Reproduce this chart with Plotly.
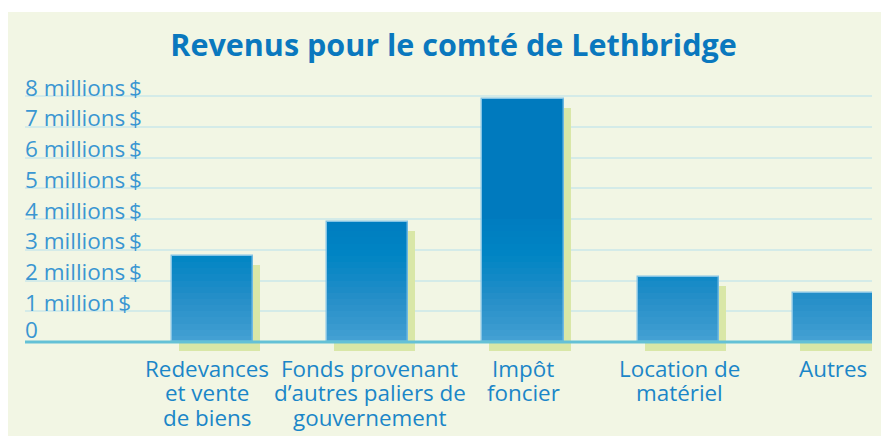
import plotly.graph_objects as go

# ---- data ----
categories = ["Redevances", "Fonds", "Impôt", "Location", "Autres"]
label_lines = [
    ["Redevances", "et vente", "de biens"],
    ["Fonds provenant", "d\u2019autres paliers de", "gouvernement"],
    ["Impôt", "foncier"],
    ["Location de", "matériel"],
    ["Autres"],
]
values = [2.8, 3.9, 7.9, 2.1, 1.6]  # millions $
tick_vals = [0, 1, 2, 3, 4, 5, 6, 7, 8]
tick_text = ["0", "1 million\u2009$", "2 millions\u2009$", "3 millions\u2009$",
             "4 millions\u2009$", "5 millions\u2009$", "6 millions\u2009$",
             "7 millions\u2009$", "8 millions\u2009$"]
title_text = "Revenus pour le comté de Lethbridge"

# ---- style / geometry (figure pixels; page body adds an 8px offset) ----
W, H = 881, 428
ML, MR, MT, MB = 17, 17, 62, 76
PX_PER_UNIT = 30.75
Y0_PX = 334
y_lo = (Y0_PX - (H - MB)) / PX_PER_UNIT
y_hi = (Y0_PX - MT) / PX_PER_UNIT
SPACING = 155.25
X0_PX = 204.5
x_lo = (ML - X0_PX) / SPACING
x_hi = (W - MR - X0_PX) / SPACING
PW = W - ML - MR
PH = H - MT - MB
label_xshift = [-6, 2, 0, 1, -1]

bar_w = 0.523
shadow_dx = 7 / SPACING
shadow_dy = 9 / PX_PER_UNIT

stops = [(0.0, (70, 162, 212)), (0.7, (52, 151, 205)), (1.4, (38, 143, 200)),
         (2.1, (18, 137, 198)), (2.8, (0, 133, 196)), (3.9, (0, 125, 192)),
         (9.0, (0, 121, 189))]


def col_at(v):
    for (a, ca), (b, cb) in zip(stops[:-1], stops[1:]):
        if a <= v <= b:
            t = (v - a) / (b - a)
            return "rgb(%d,%d,%d)" % tuple(round(ca[i] + t * (cb[i] - ca[i])) for i in range(3))
    return "rgb(%d,%d,%d)" % stops[-1][1]


fig = go.Figure()

# shadow
fig.add_trace(go.Bar(
    x=categories, y=values, base=[-shadow_dy] * len(values),
    width=bar_w, offset=-bar_w / 2 + shadow_dx,
    marker=dict(color="#d9e7a7", line=dict(width=0)),
    hoverinfo="skip", showlegend=False))

# gradient layers (vertical gradient)
levels = [9.0] + [round(4.0 - 0.2 * i, 2) for i in range(20)]
for lv in levels:
    fig.add_trace(go.Bar(
        x=categories, y=[min(v, lv) for v in values],
        width=bar_w, offset=-bar_w / 2,
        marker=dict(color=col_at(lv - 0.1 if lv < 9 else 8), line=dict(width=0)),
        hoverinfo="skip", showlegend=False))

# outline
fig.add_trace(go.Bar(
    x=categories, y=values, width=bar_w, offset=-bar_w / 2,
    marker=dict(color="rgba(0,0,0,0)", line=dict(color="rgba(120,190,228,0.9)", width=1.5)),
    hovertemplate="%{y} millions $<extra></extra>", showlegend=False))

# category labels, one annotation per line
for cat, lines, xs in zip(categories, label_lines, label_xshift):
    for i, ln in enumerate(lines):
        fig.add_annotation(x=cat, xref="x", xshift=xs, y=0, yref="paper", yanchor="middle",
                           yshift=-(8 + i * 24.5), text=ln, showarrow=False,
                           font=dict(family="Open Sans", size=22.4, color="#1b86c8"))

# y labels sitting above their grid lines
for tv, tt in zip(tick_vals, tick_text):
    fig.add_annotation(x=0, xref="paper", xanchor="left", xshift=-2,
                       y=tv, yref="y", yanchor="middle",
                       yshift=12.5 if tv == 0 else 9, text=tt, showarrow=False,
                       font=dict(family="Open Sans", size=22.5, color="#3a96d2"))

# panel background
fig.add_shape(type="rect", xref="paper", yref="paper", layer="below",
              x0=(0 - ML) / PW, x1=(W - ML) / PW,
              y0=((H - MB) - H) / PH, y1=((H - MB) - 4) / PH,
              fillcolor="#f2f6e4", line=dict(width=0))
# baseline
fig.add_shape(type="line", xref="paper", yref="y", x0=0, x1=1, y0=0, y1=0,
              layer="above", line=dict(color="#64c1d6", width=3))

fig.update_layout(
    width=W, height=H, margin=dict(l=ML, r=MR, t=MT, b=MB),
    paper_bgcolor="white", plot_bgcolor="rgba(0,0,0,0)",
    barmode="overlay", bargap=0,
    title=dict(text="<b>" + title_text + "</b>", x=445.5 / W, xanchor="center",
               y=1 - 37 / H, yanchor="middle",
               font=dict(family="Open Sans", size=30.5, color="#0a78be")),
    xaxis=dict(range=[x_lo, x_hi], showticklabels=False, showgrid=False,
               zeroline=False, showline=False, ticks="", fixedrange=True),
    yaxis=dict(range=[y_lo, y_hi], tickvals=tick_vals[1:], showticklabels=False,
               ticks="", showgrid=True, gridcolor="#d4ebe8", gridwidth=2,
               zeroline=False, showline=False, fixedrange=True),
    showlegend=False,
)

fig.write_html("out.html")
